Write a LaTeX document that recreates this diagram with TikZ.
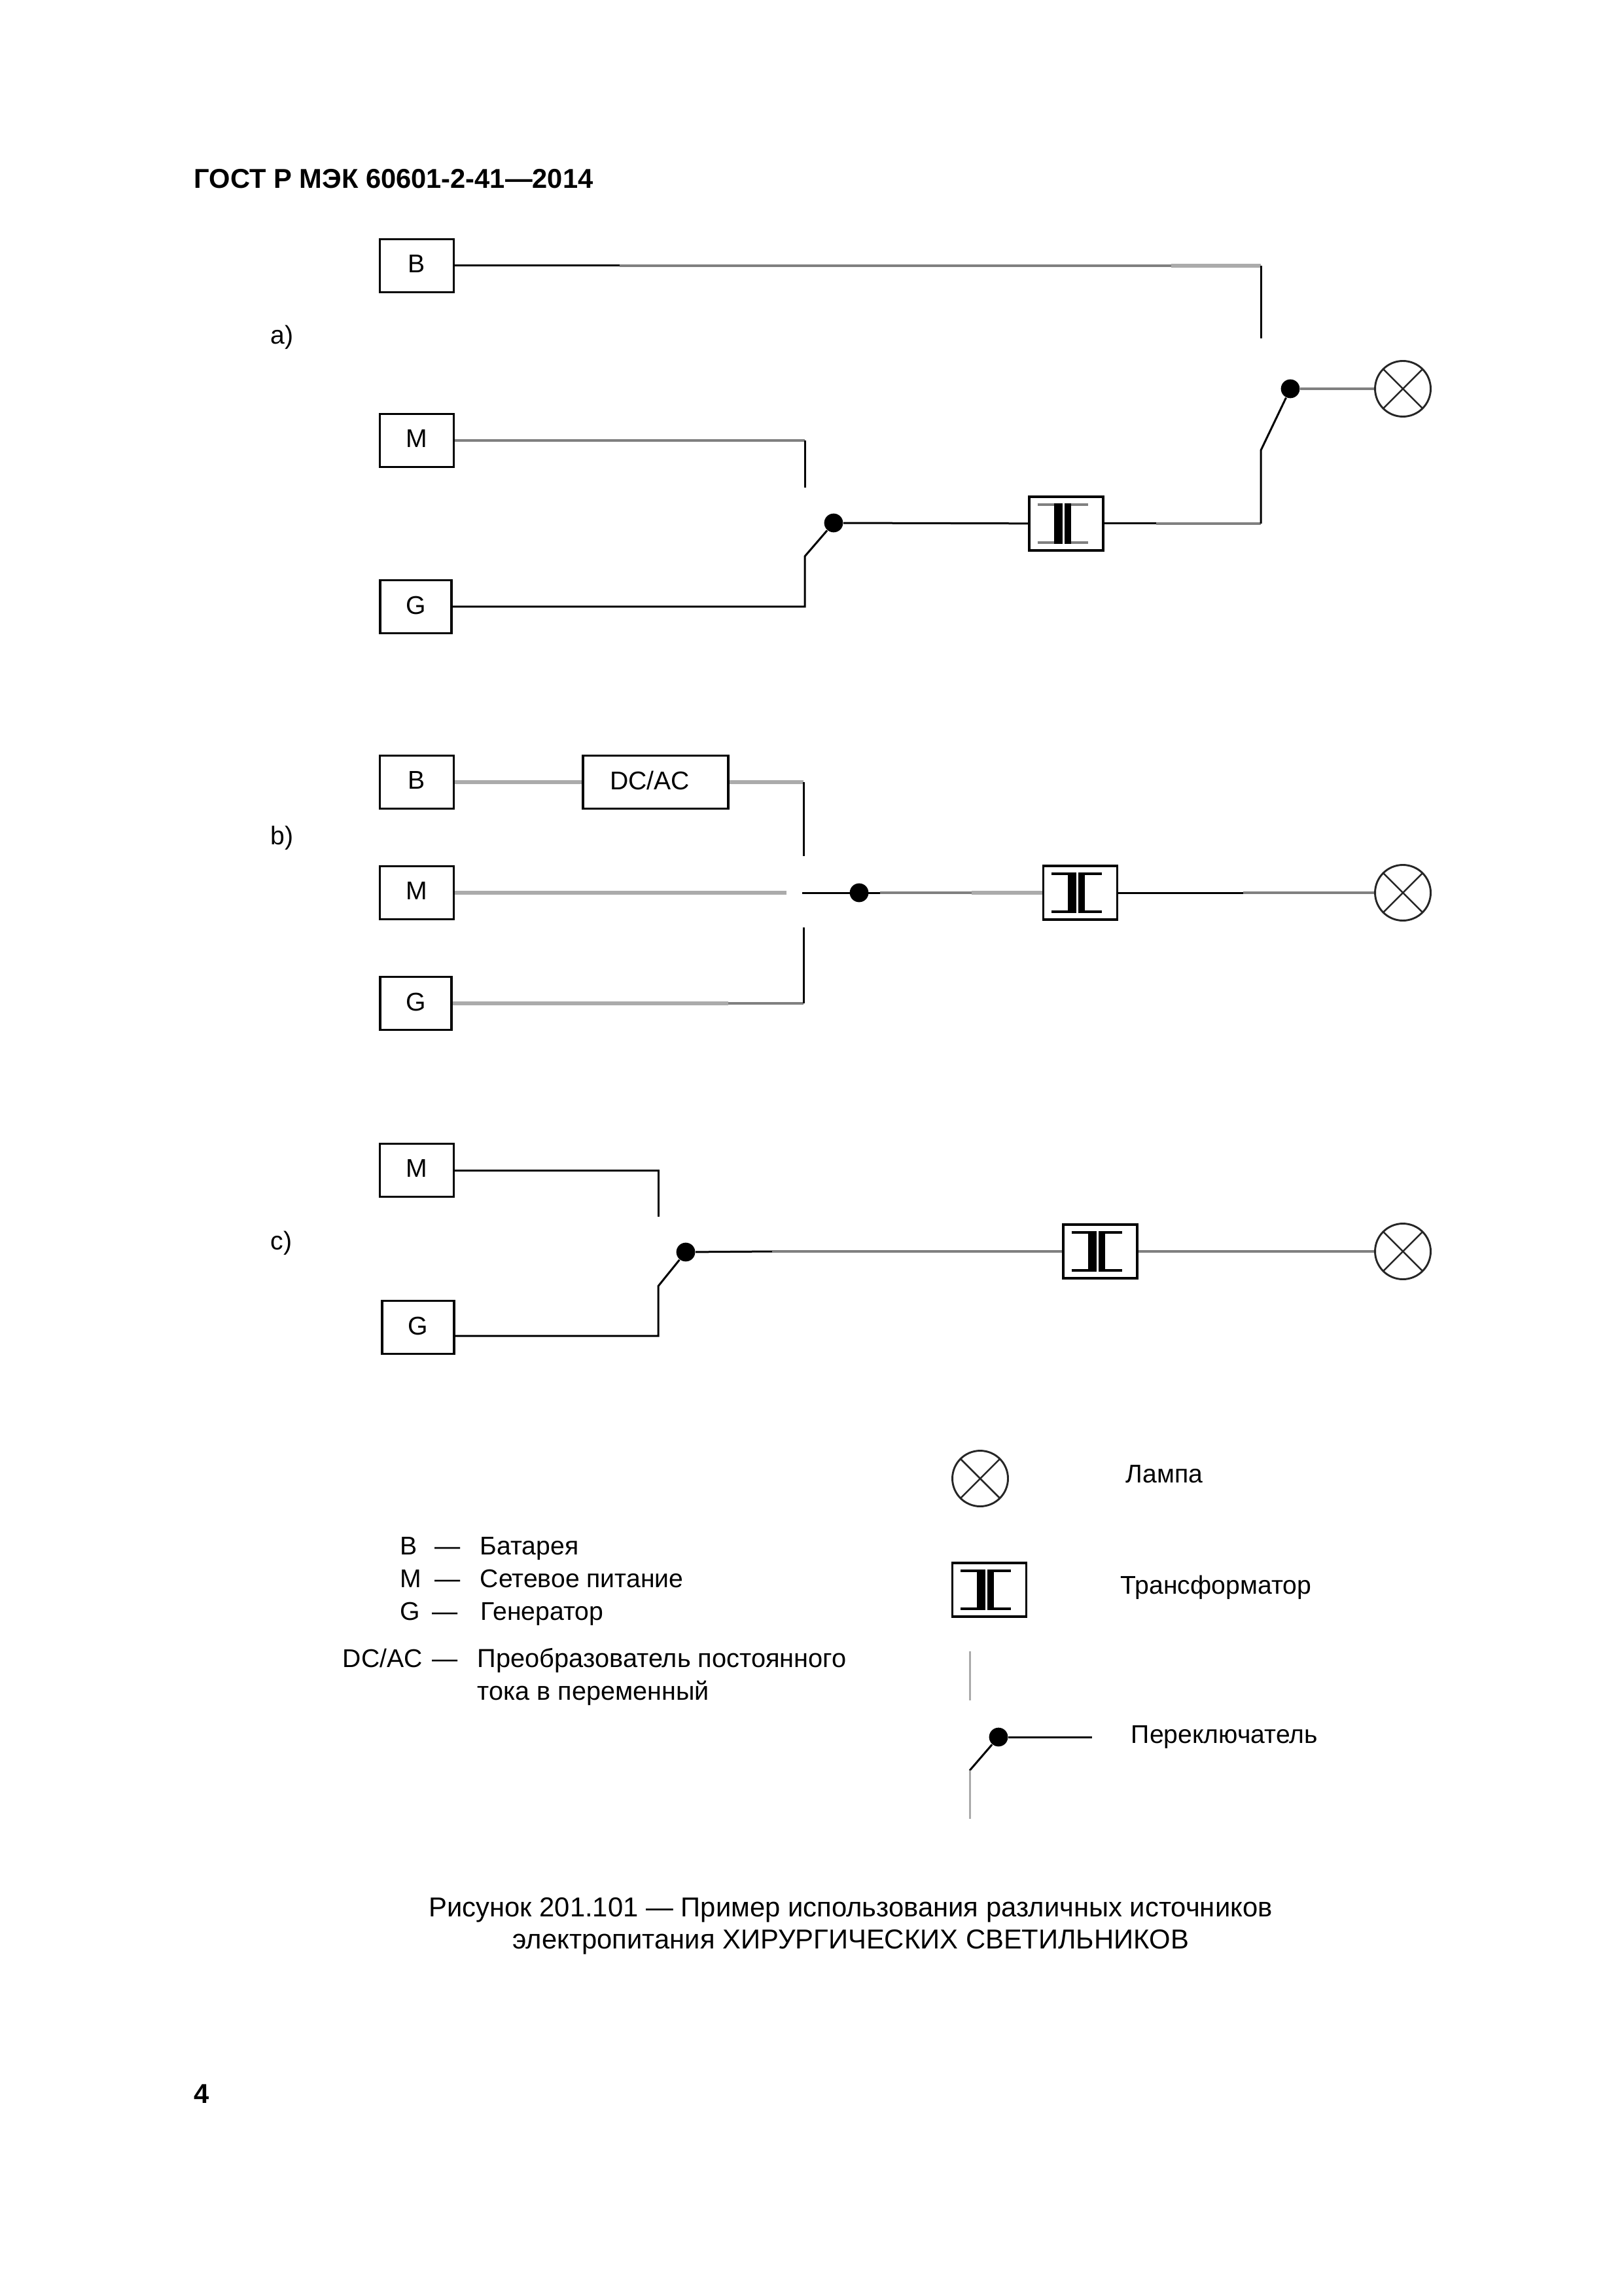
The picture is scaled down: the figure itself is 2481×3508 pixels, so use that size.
\documentclass[tikz,border=0pt]{standalone}
\usepackage{fontspec}
\setmainfont{Liberation Sans}
\usetikzlibrary{calc}
\definecolor{wirelight}{HTML}{ABABAB}
\definecolor{wiremid}{HTML}{808080}
\tikzset{
    srcnode/.style={draw, line width=.9pt, minimum width=27.1pt, minimum height=19.4pt, inner sep=0pt,
        text depth=1.2pt, font=\fontsize{9.4}{11}\selectfont},
    trnode/.style={draw, line width=.9pt, minimum width=27.1pt, minimum height=19.8pt, inner sep=0pt},
    lampnode/.style={draw, circle, line width=.7pt, black!85, minimum size=20.4pt, inner sep=0pt,
        path picture={
            \draw[line width=.6pt] (path picture bounding box.north west) -- (path picture bounding box.south east);
            \draw[line width=.6pt] (path picture bounding box.north east) -- (path picture bounding box.south west);
        }},
    dotnode/.style={circle, fill=black, minimum size=6.9pt, inner sep=0pt},
    wirek/.style={line width=.72pt, black},
    wireg/.style={line width=1.44pt, wirelight},
    wired/.style={line width=1pt, wiremid},
    wirel/.style={line width=.72pt, wirelight},
    txtnode/.style={anchor=base west, inner sep=0pt, font=\fontsize{9.4}{11}\selectfont},
    capnode/.style={anchor=base, inner sep=0pt, font=\fontsize{10.03}{12}\selectfont},
    headnode/.style={anchor=base west, inner sep=0pt, font=\fontsize{10}{12}\selectfont\bfseries}
}
\begin{document}
\begin{tikzpicture}[x=.24pt, y=-.24pt]
    \useasboundingbox (0,0) rectangle (2481,3508);

    \node[headnode] (head) at (296,288) {ГОСТ Р МЭК 60601-2-41—2014};
    \node[headnode] (page) at (296,3213) {4};
    \node[txtnode] (laba) at (413,526) {a)};
    \node[txtnode] (labb) at (413,1290) {b)};
    \node[txtnode] (labc) at (413,1909) {c)};

    \node[srcnode] (ba) at (637,406) {B};
    \node[srcnode] (ma) at (637,673) {M};
    \node[srcnode, minimum width=26.3pt] (ga) at (635.5,927) {G};
    \node[trnode] (ta) at (1629.5,800) {};
    \node[dotnode] (sa) at (1274,799) {};
    \node[dotnode] (ra) at (1972,594) {};
    \node[lampnode] (la) at (2144,594) {};
    \coordinate (ua) at (1230,745);
    \coordinate (va) at (1230,850);
    \coordinate (wa) at (1927,517);
    \coordinate (xa) at (1927,688);
    \coordinate (pa) at (947,406);
    \coordinate (qa) at (1790,406);
    \coordinate (ya) at (1767,800);
    \coordinate (ca) at (1927,406);
    \coordinate (da) at (1927,800);
    \coordinate (ea) at (1230,673);
    \draw[wirek] (ba) -- (pa);
    \draw[wired] (pa) -- (qa);
    \draw[wireg] (qa) -- (ca);
    \draw[wirek] (ca) -- (wa);
    \draw[wired] (ma) -- (ea);
    \draw[wirek] (ea) -- (ua);
    \draw[wirek] (ga) -| (va) -- (sa);
    \draw[wirek] (sa) -- (ta);
    \draw[wirek] (ta) -- (ya);
    \draw[wired] (ya) -- (da);
    \draw[wirek] (da) -- (xa) -- (ra);
    \draw[wired] (ra) -- (la);

    \node[srcnode] (bb) at (637,1195) {B};
    \node[srcnode] (mb) at (637,1364) {M};
    \node[srcnode, minimum width=26.3pt] (gb) at (635.5,1533) {G};
    \node[srcnode, minimum width=53.3pt] (dc) at (1002,1195) {DC/AC\kern4.3pt};
    \node[trnode] (tb) at (1651,1364) {};
    \node[dotnode] (sb) at (1313,1364) {};
    \node[lampnode] (lb) at (2144,1364) {};
    \coordinate (ub) at (1228,1308);
    \coordinate (vb) at (1228,1417);
    \coordinate (wb) at (1202,1364);
    \coordinate (xb) at (1226,1364);
    \coordinate (pb) at (1345,1364);
    \coordinate (qb) at (1485,1364);
    \coordinate (yb) at (1900,1364);
    \coordinate (cb) at (1228,1195);
    \coordinate (db) at (1228,1533);
    \coordinate (eb) at (1113,1533);
    \draw[wireg] (bb) -- (dc);
    \draw[wireg] (dc) -- (cb);
    \draw[wirek] (cb) -- (ub);
    \draw[wireg] (mb) -- (wb);
    \draw[wirek] (xb) -- (pb);
    \draw[wired] (pb) -- (qb);
    \draw[wireg] (qb) -- (tb);
    \draw[wireg] (gb) -- (eb);
    \draw[wired] (eb) -- (db);
    \draw[wirek] (db) -- (vb);
    \draw[wirek] (tb) -- (yb);
    \draw[wired] (yb) -- (lb);

    \node[srcnode] (mc) at (637,1788) {M};
    \node[srcnode, minimum width=26.3pt] (gc) at (639,2028) {G};
    \node[trnode] (tc) at (1681.5,1912) {};
    \node[dotnode] (sc) at (1048,1913) {};
    \node[lampnode] (lc) at (2144,1912) {};
    \coordinate (uc) at (1006,1859);
    \coordinate (vc) at (1006,1965);
    \coordinate (pc) at (1180,1912);
    \draw[wirek] (mc) -| (uc);
    \draw[wirek] (gc.east |- 0,2041) -| (vc) -- (sc);
    \draw[wirek] (sc) -- (pc);
    \draw[wired] (pc) -- (tc);
    \draw[wired] (tc) -- (lc);

    \node[lampnode] (ll) at (1498,2259) {};
    \node[trnode] (tl) at (1512,2429) {};
    \node[dotnode] (sl) at (1526,2654) {};
    \coordinate (nl) at (1482,2523);
    \coordinate (ol) at (1482,2598);
    \coordinate (ul) at (1482,2705);
    \coordinate (vl) at (1482,2779);
    \coordinate (wl) at (1669,2654);
    \draw[wirel] (nl) -- (ol);
    \draw[wirek] (sl) -- (wl);
    \draw[wirek] (sl) -- (ul);
    \draw[wirel] (ul) -- (vl);

    \foreach \t/\c in {ta/black!50, tb/black, tc/black, tl/black} {
        \fill ([shift={(-19,-31)}]\t.center) rectangle ([shift={(-6,31)}]\t.center);
        \fill ([shift={(-3,-31)}]\t.center) rectangle ([shift={(7,31)}]\t.center);
        \foreach \s in {-1,1} {
            \draw[line width=1pt, \c] ([shift={(-44,\s*29)}]\t.center) -- ([shift={(-19,\s*29)}]\t.center);
            \draw[line width=1pt, \c] ([shift={(7,\s*29)}]\t.center) -- ([shift={(33,\s*29)}]\t.center);
        }
    }

    \node[txtnode] (t1) at (1720,2265) {Лампа};
    \node[txtnode] (t2) at (1712,2435) {Трансформатор};
    \node[txtnode] (t3) at (1728,2663) {Переключатель};

    \node[txtnode] (k1) at (611,2375) {B};
    \node[txtnode] (k2) at (611,2425) {M};
    \node[txtnode] (k3) at (611,2475) {G};
    \node[txtnode] (k4) at (523,2547) {DC/AC};
    \node[txtnode] (d1) at (664,2375) {—};
    \node[txtnode] (d2) at (664,2425) {—};
    \node[txtnode] (d3) at (660,2475) {—};
    \node[txtnode] (d4) at (660,2547) {—};
    \node[txtnode] (n1) at (733,2375) {Батарея};
    \node[txtnode] (n2) at (733,2425) {Сетевое питание};
    \node[txtnode] (n3) at (734,2475) {Генератор};
    \node[txtnode, font=\fontsize{9.55}{11}\selectfont] (n4) at (729,2547) {Преобразователь постоянного};
    \node[txtnode, font=\fontsize{9.5}{11}\selectfont] (n5) at (729,2597) {тока в переменный};

    \node[capnode] (cap1) at (1300,2928) {Рисунок 201.101 — Пример использования различных источников};
    \node[capnode] (cap2) at (1300,2977) {электропитания ХИРУРГИЧЕСКИХ СВЕТИЛЬНИКОВ};
\end{tikzpicture}
\end{document}
